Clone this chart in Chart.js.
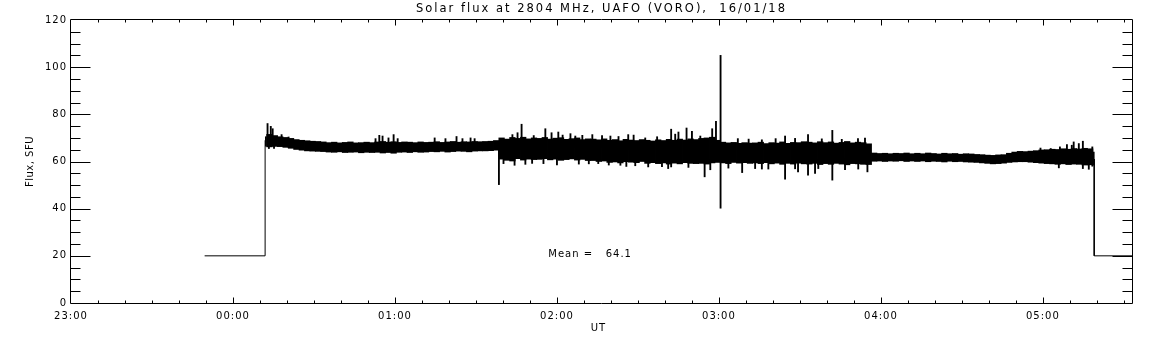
<!DOCTYPE html>
<html>
<head>
<meta charset="utf-8">
<script src="https://cdn.jsdelivr.net/npm/chart.js@4.4.1/dist/chart.umd.min.js"></script>
<style>
  html, body { margin: 0; padding: 0; background: #fff; }
  #wrap { width: 1152px; height: 345px; }
</style>
</head>
<body>
<div id="wrap"><canvas id="fluxChart"></canvas></div>
<script>
// time axis: minutes after 23:00 UT
const axisStartHour = 23;
const axisMinutes = [0, 393];
const fluxRange = [0, 120];
const fluxMean = 64.1;

// flat 20 SFU level before / after the observation (time, flux)
const stepTime = [49.5, 71.9, 71.9, 72, 379, 379, 400];
const stepFlux = [20, 20, 69, null, 61, 20, 20];

// dense noise band, 2-minute bins starting at 00:13:30
const binFirst = 73.5;
const binStep = 2;
const binHi = [
  71.5, 71.0, 70.5, 70.2, 69.8, 69.3, 69.0, 68.8, 68.6, 68.5,
  68.3, 68.0, 68.2, 67.9, 68.1, 68.3, 67.9, 68.0, 68.2, 68.0,
  68.3, 68.5, 68.2, 68.4, 68.1, 68.3, 68.2, 68.0, 68.3, 68.1,
  68.2, 68.4, 68.1, 68.3, 68.5, 68.2, 68.4, 68.3, 68.5, 68.4,
  68.5, 68.6, 68.9, 70.0, 69.5, 70.2, 69.8, 70.3, 69.6, 70.0,
  69.8, 70.2, 69.5, 69.9, 70.1, 69.4, 69.7, 70.0, 69.3, 69.6,
  69.5, 69.2, 69.6, 69.0, 69.3, 68.8, 69.4, 69.1, 68.9, 69.3,
  69.0, 68.7, 69.2, 68.9, 69.4, 69.0, 69.5, 69.1, 69.6, 69.3,
  69.8, 70.0, 70.3, 69.0, 68.2, 67.9, 68.1, 67.7, 68.0, 67.8,
  67.9, 68.2, 67.6, 68.0, 67.8, 68.3, 67.7, 68.1, 68.0, 68.4,
  68.2, 67.9, 68.4, 68.0, 68.3, 67.8, 68.1, 68.5, 67.9, 68.2,
  68.0, 67.5, 63.6, 63.4, 63.5, 63.3, 63.5, 63.4, 63.6, 63.3,
  63.5, 63.3, 63.6, 63.4, 63.2, 63.5, 63.3, 63.4, 63.1, 63.3,
  63.2, 63.0, 62.9, 62.7, 62.6, 62.8, 62.9, 63.5, 64.0, 64.3,
  64.2, 64.4, 64.6, 64.9, 65.0, 65.2, 65.1, 65.4, 65.2, 65.5,
  65.3, 65.6, 65.4
];
const binLo = [
  66.2, 66.4, 66.3, 66.0, 65.6, 65.1, 64.8, 64.5, 64.4, 64.3,
  64.2, 64.0, 63.9, 64.1, 63.8, 63.9, 64.0, 63.7, 63.9, 63.8,
  63.9, 63.6, 63.8, 63.5, 63.9, 64.0, 63.8, 64.1, 63.9, 64.0,
  64.2, 64.1, 64.3, 64.0, 64.2, 64.4, 64.3, 64.1, 64.4, 64.5,
  64.5, 64.6, 64.8, 61.0, 60.5, 60.2, 61.2, 60.6, 61.0, 60.8,
  60.9, 61.2, 60.7, 61.0, 60.5, 60.8, 61.1, 60.6, 60.9, 60.4,
  60.4, 60.0, 60.2, 59.6, 59.8, 59.4, 59.9, 59.7, 59.5, 60.0,
  59.2, 59.5, 59.1, 59.4, 58.9, 59.3, 59.0, 59.5, 59.2, 59.1,
  59.2, 58.9, 59.4, 59.6, 59.4, 59.1, 59.6, 59.3, 59.5, 59.2,
  59.4, 59.1, 59.5, 59.0, 59.3, 58.8, 59.2, 58.9, 59.3, 59.0,
  58.9, 59.2, 58.7, 59.1, 58.8, 59.2, 58.9, 58.6, 59.1, 59.0,
  58.8, 58.7, 60.1, 60.2, 60.0, 60.2, 60.1, 60.3, 60.0, 60.2,
  60.0, 60.2, 59.9, 60.1, 60.0, 59.8, 60.1, 59.9, 60.0, 59.8,
  59.7, 59.6, 59.4, 59.2, 59.0, 59.1, 59.3, 59.6, 59.8, 59.9,
  59.9, 59.7, 59.5, 59.3, 59.1, 59.0, 58.8, 59.0, 58.7, 58.9,
  58.8, 58.5, 58.6
];

// single spikes sticking out of the band
const spikeTime = [
  72.2, 72.8, 73.3, 74.0, 74.7, 75.2, 78.0, 80.6,
  112.8, 114.2, 115.4, 117.6, 119.5, 121, 134.7, 138.7, 142.8, 145, 148, 149.5,
  158.5, 160.2, 163.5, 164.3, 165.4, 166.9, 168.3, 170.8, 171.4, 175, 175.7, 178,
  180.0, 180.5, 182.1, 185, 186.8, 188.1, 189.4, 191.8, 193.1, 195.3, 196.7, 199.2,
  199.8, 202.8, 203.5, 205.7, 206.4, 208.4, 209.0, 212.7, 213.8, 217.1, 218.9,
  221.2, 222.3, 223.8, 225, 228, 228.7, 230,
  233.1, 234.7, 236.8, 237.5, 238.9, 240.6, 243.5, 247, 248.6, 251.0, 253.4,
  255.9, 258.3, 261, 264.5, 268.2, 269.3, 273, 275.6, 276.8, 278.1, 282,
  285.5, 286.7, 291.5, 291.6, 294.1, 295,
  359.1, 362.9, 365.9, 366.3, 368.9, 370.7, 371.4, 373.3, 374.8, 377, 378.3, 378.8
];
const spikeLo = [
  66.5, 67, 65.5, 67, 67, 65.5, 67, 66,
  66, 66, 66, 66, 66, 66, 66, 66, 66, 66, 66, 66,
  50.2, 59.1, 65, 58.4, 65, 65, 58.8, 59.2, 66, 59.1, 65, 65,
  58.6, 65, 66, 65, 66, 58.9, 65, 59.0, 65, 59.1, 66, 58.5,
  65, 66, 58.4, 57.9, 65, 66, 58.2, 65, 57.7, 66, 57.8,
  57.0, 57.7, 66, 64, 64, 57.5, 64,
  64, 53.5, 56.5, 64, 64, 40.2, 57.2, 63, 55.3, 64, 57.0,
  56.8, 56.8, 63, 52.5, 56.9, 55.6, 54.2, 54.9, 57.0, 64, 52.1,
  64, 56.5, 63, 56.8, 64, 55.6,
  62, 62, 57.3, 62, 62, 62, 62, 62, 57, 56.7, 58, 58.5
];
const spikeHi = [
  70.5, 76.1, 70, 74.9, 73.9, 69, 71.4, 70.4,
  69.7, 71.1, 70.8, 70.0, 71.4, 69.7, 70, 69.7, 70.6, 69.7, 70, 69.7,
  66, 64, 71.4, 64, 72.2, 75.8, 62, 62, 71.0, 64, 73.9, 72.2,
  62, 72.5, 71.2, 71.8, 70.8, 62, 71.1, 62, 71.4, 64, 71.0, 62,
  70.8, 70.6, 64, 64, 71.4, 71.2, 62, 70, 64, 70.5, 62,
  64, 73.7, 71.6, 72.5, 74.2, 62, 72.8,
  70.8, 64, 61, 73.9, 77, 105, 61, 69.7, 63, 69.5, 61,
  69.2, 61, 69.7, 70.8, 69.8, 63, 71.4, 63, 61, 69.6, 73.2,
  69.4, 61, 69.7, 61, 69.9, 63,
  65.7, 65.5, 62, 66.2, 67.2, 66.9, 68.3, 67.6, 68.6, 62, 66.2, 64
];

// where the mean is written (data coordinates)
const meanLabelAt = [176.8, 20.7];

const FONT = '"DejaVu Sans", sans-serif';

function hourLabel(v) {
  if (v % 60 !== 0) return '';
  const h = (axisStartHour + v / 60) % 24;
  return String(h).padStart(2, '0') + ':00';
}

const idlFrame = {
  id: 'idlFrame',
  beforeDraw(chart) {
    const ctx = chart.ctx;
    ctx.save();
    ctx.fillStyle = '#fff';
    ctx.fillRect(0, 0, chart.width, chart.height);
    ctx.restore();
    ctx.letterSpacing = '1px';
  },
  afterDraw(chart) {
    const { ctx, chartArea: a, scales: { x, y } } = chart;
    ctx.save();
    ctx.strokeStyle = '#000';
    ctx.lineWidth = 1;
    const L = Math.round(a.left) - 0.5, R = Math.round(a.right) + 0.5;
    const T = Math.round(a.top) - 0.5, B = Math.round(a.bottom) + 0.5;
    ctx.beginPath();
    ctx.rect(L, T, R - L, B - T);
    // y ticks, inward on both sides
    for (let v = fluxRange[0] + 5; v < fluxRange[1]; v += 5) {
      const py = Math.round(y.getPixelForValue(v)) + 0.5;
      const len = v % 20 === 0 ? 20 : 10;
      ctx.moveTo(L, py); ctx.lineTo(L + len, py);
      ctx.moveTo(R, py); ctx.lineTo(R - len, py);
    }
    // x ticks every 10 minutes, inward top and bottom
    for (let v = 10; v < axisMinutes[1]; v += 10) {
      const px = Math.round(x.getPixelForValue(v)) + 0.5;
      const len = v % 60 === 0 ? 6 : 3;
      ctx.moveTo(px, B); ctx.lineTo(px, B - len);
      ctx.moveTo(px, T); ctx.lineTo(px, T + len);
    }
    ctx.stroke();

    ctx.fillStyle = '#000';
    // title
    ctx.font = '11.5px ' + FONT;
    ctx.letterSpacing = '2px';
    ctx.textAlign = 'center';
    ctx.textBaseline = 'alphabetic';
    ctx.fillText('Solar flux at 2804 MHz, UAFO (VORO),  16/01/18', (a.left + a.right) / 2, 12);
    // axis titles
    ctx.font = '10px ' + FONT;
    ctx.letterSpacing = '1px';
    ctx.textBaseline = 'middle';
    ctx.fillText('UT', (a.left + a.right) / 2 - 3, 328);
    ctx.save();
    ctx.translate(30, (a.top + a.bottom) / 2);
    ctx.rotate(-Math.PI / 2);
    ctx.letterSpacing = '0.5px';
    ctx.fillText('Flux, SFU', 0, 0);
    ctx.restore();
    // mean
    ctx.textAlign = 'left';
    ctx.fillText('Mean =   ' + fluxMean.toFixed(1),
      x.getPixelForValue(meanLabelAt[0]), y.getPixelForValue(meanLabelAt[1]));
    ctx.restore();
  }
};

const bandData = binHi.map((hi, i) => ({ x: binFirst + binStep * i, y: [binLo[i], hi] }));
const spikeData = spikeTime.map((t, i) => ({ x: t, y: [spikeLo[i], spikeHi[i]] }));
const stepData = stepTime.map((t, i) => ({ x: t, y: stepFlux[i] }));

new Chart(document.getElementById('fluxChart'), {
  type: 'bar',
  data: {
    datasets: [
      {
        label: 'band',
        data: bandData,
        backgroundColor: '#000',
        borderWidth: 0,
        barThickness: 5.6,
        grouped: false
      },
      {
        label: 'spikes',
        data: spikeData,
        backgroundColor: '#000',
        borderWidth: 0,
        barThickness: 1.2,
        grouped: false
      },
      {
        type: 'line',
        label: 'level',
        data: stepData,
        borderColor: '#000',
        borderWidth: 1,
        pointRadius: 0,
        spanGaps: false,
        tension: 0
      }
    ]
  },
  options: {
    responsive: true,
    maintainAspectRatio: false,
    animation: false,
    layout: { padding: { top: 20, right: 20, left: 0, bottom: 0 } },
    plugins: {
      legend: { display: false },
      title: { display: false },
      tooltip: { enabled: false }
    },
    scales: {
      x: {
        type: 'linear',
        min: axisMinutes[0],
        max: axisMinutes[1],
        offset: false,
        grid: { display: false, drawTicks: false },
        border: { display: false },
        ticks: {
          stepSize: 60,
          includeBounds: false,
          autoSkip: false,
          maxRotation: 0,
          padding: 7,
          color: '#000',
          font: { family: FONT, size: 10 },
          callback: hourLabel
        },
        afterFit(scale) { scale.height = 42; }
      },
      y: {
        min: fluxRange[0],
        max: fluxRange[1],
        grid: { display: false, drawTicks: false },
        border: { display: false },
        ticks: {
          stepSize: 20,
          padding: 4,
          color: '#000',
          font: { family: FONT, size: 10 }
        },
        afterFit(scale) { scale.width = 71; }
      }
    }
  },
  plugins: [idlFrame]
});
</script>
</body>
</html>
